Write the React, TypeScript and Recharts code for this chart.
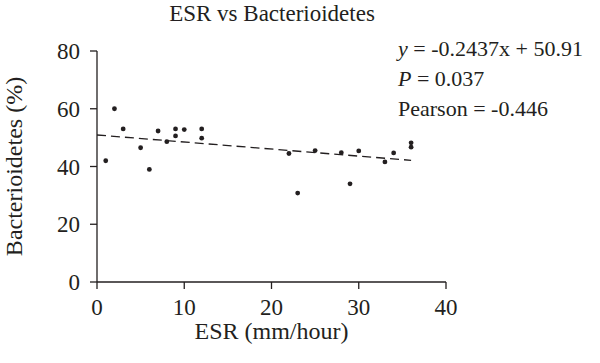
import { ScatterChart, Scatter, XAxis, YAxis, ReferenceLine, Label } from 'recharts';

// ESR (mm/hour) against Bacterioidetes (%)
const esr = [1, 2, 3, 5, 6, 7, 8, 9, 9, 10, 12, 12, 22, 23, 25, 28, 29, 30, 33, 34, 36, 36];
const bacteroidetes = [42, 60, 53, 46.5, 39, 52.3, 48.6, 53, 50.6, 52.8, 53, 49.8, 44.5, 30.8, 45.5, 44.8, 34, 45.4, 41.6, 44.7, 48.2, 46.7];

const xTicks = [0, 10, 20, 30, 40];
const yTicks = [0, 20, 40, 60, 80];

// fitted line y = -0.2437x + 50.91, drawn over the observed ESR range
const slope = -0.2437;
const intercept = 50.91;
const fitX = [0, 36];

const annotation = ['= -0.2437x + 50.91', '= 0.037', 'Pearson = -0.446'];

const points = esr.map((x, i) => ({ x, y: bacteroidetes[i] }));
const fitSegment = fitX.map((x) => ({ x, y: slope * x + intercept }));

const ink = '#231f20';
const font = '"Liberation Serif", "DejaVu Serif", serif';

const Dot = (props: any) => <circle cx={props.cx} cy={props.cy} r={2.4} fill={ink} />;

export default function App() {
  return (
    <div style={{ position: 'absolute', left: 0, top: 0, width: 600, height: 363, background: '#fff', fontFamily: font, color: ink }}>
      <div style={{ position: 'absolute', left: 0, top: -1, width: 544, textAlign: 'center', fontSize: 23, lineHeight: '30px' }}>
        ESR vs Bacterioidetes
      </div>
      <ScatterChart width={600} height={363} margin={{ top: 51, right: 154, bottom: 21, left: 0 }}>
        <XAxis
          type="number"
          dataKey="x"
          domain={[0, 40]}
          ticks={xTicks}
          height={60}
          stroke={ink}
          strokeWidth={1.3}
          tickSize={7}
          tickMargin={10}
          tick={{ fill: ink, fontSize: 23, fontFamily: font }}
        >
          <Label value="ESR (mm/hour)" position="insideBottom" offset={3} fill={ink} fontSize={24} fontFamily={font} />
        </XAxis>
        <YAxis
          type="number"
          dataKey="y"
          domain={[0, 80]}
          ticks={yTicks}
          width={97}
          stroke={ink}
          strokeWidth={1.3}
          tickSize={7}
          tickMargin={10}
          tick={{ fill: ink, fontSize: 23, fontFamily: font }}
        >
          <Label
            value="Bacterioidetes (%)"
            angle={-90}
            position="insideLeft"
            offset={13}
            fill={ink}
            fontSize={24}
            fontFamily={font}
            textAnchor="middle"
            style={{ textAnchor: 'middle' }}
          />
        </YAxis>
        <ReferenceLine segment={fitSegment} stroke={ink} strokeWidth={1.3} strokeDasharray="9 5" ifOverflow="visible" />
        <Scatter data={points} fill={ink} shape={Dot} isAnimationActive={false} />
      </ScatterChart>
      <div style={{ position: 'absolute', left: 398, top: 34, fontSize: 22, lineHeight: '30px', whiteSpace: 'nowrap' }}>
        <div><i>y</i> {annotation[0]}</div>
        <div><i>P</i> {annotation[1]}</div>
        <div>{annotation[2]}</div>
      </div>
    </div>
  );
}
